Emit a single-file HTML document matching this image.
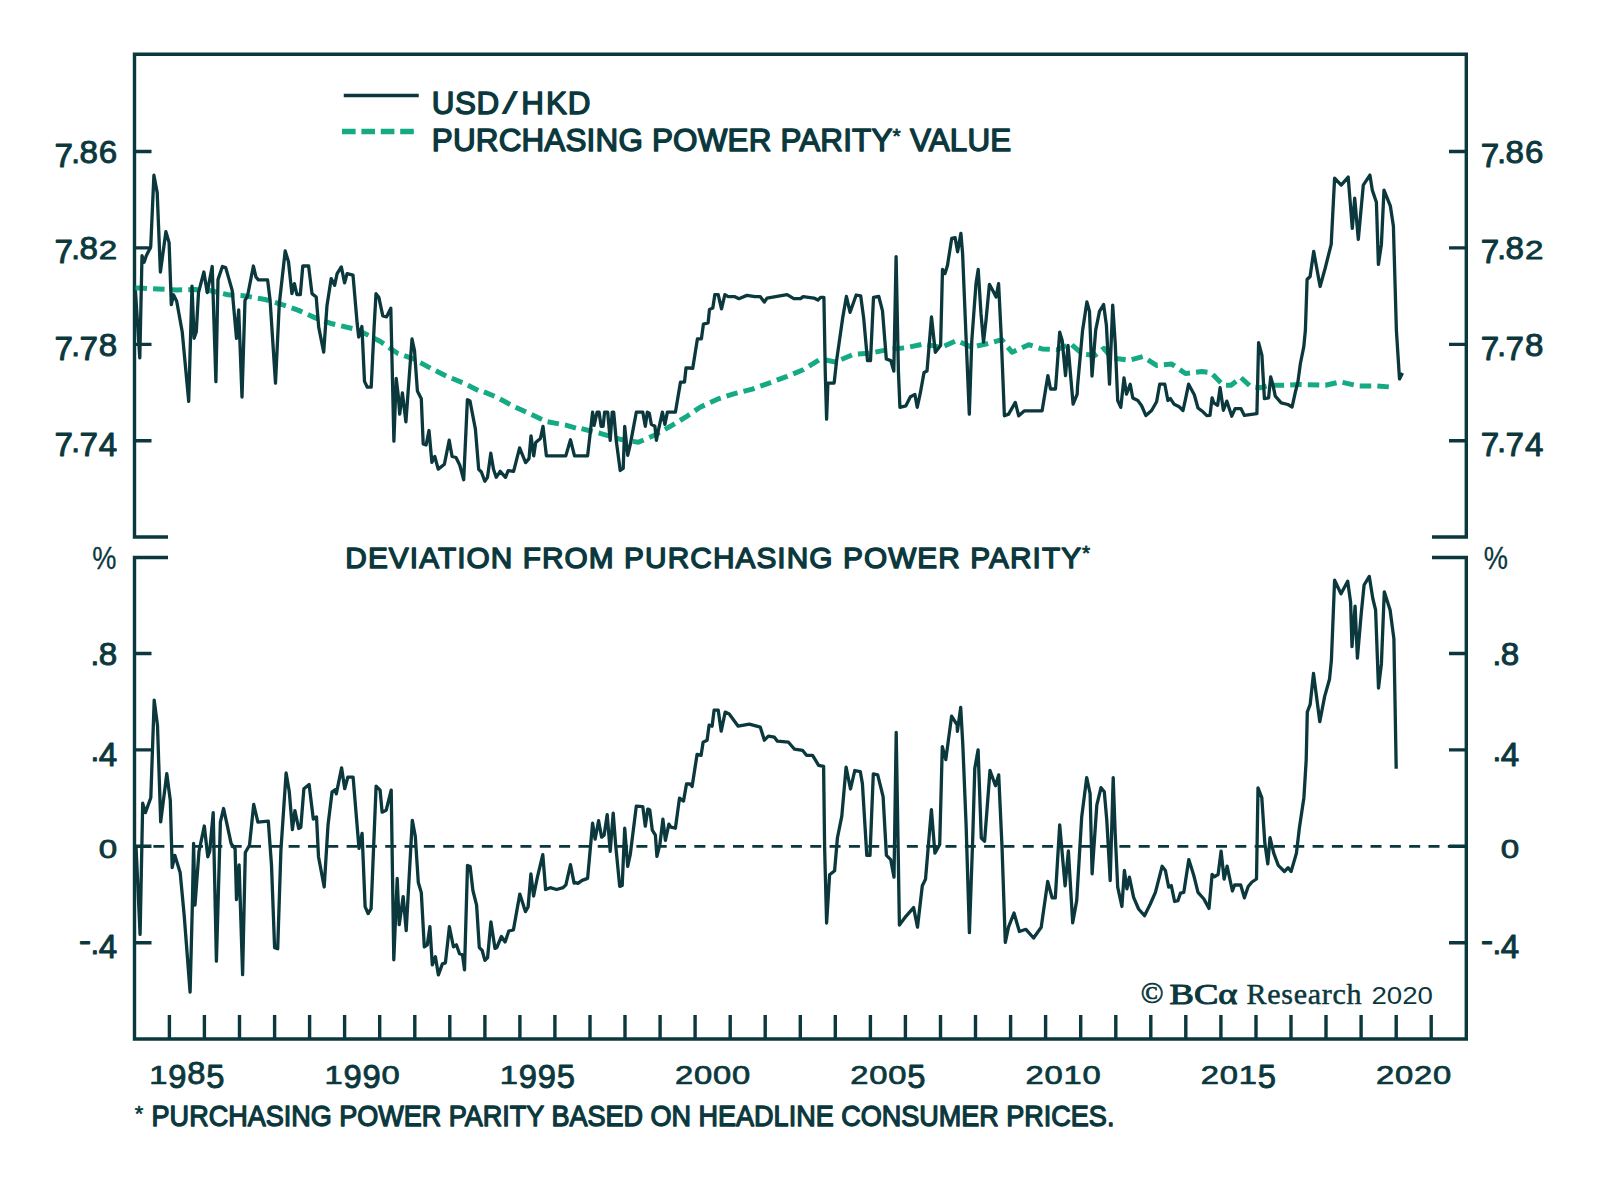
<!DOCTYPE html>
<html><head><meta charset="utf-8"><title>USD/HKD vs Purchasing Power Parity</title>
<style>html,body{margin:0;padding:0;background:#fff;}svg{display:block;}</style>
</head><body>
<svg width="1600" height="1195" viewBox="0 0 1600 1195">
<rect width="1600" height="1195" fill="#ffffff"/>
<g fill="none" stroke="#0b383d" stroke-width="3.4" stroke-linecap="butt" stroke-linejoin="miter">
<path d="M168,537.0 H134.5 V54.3 H1466.3 V537.0 H1432"/>
<path d="M168,557.5 H134.5 V1039.0 H1466.3 V557.5 H1432"/>
<path d="M134.5,151.5 H151.5 M1449,151.5 H1466.3 M134.5,247.9 H151.5 M1449,247.9 H1466.3 M134.5,344.4 H151.5 M1449,344.4 H1466.3 M134.5,440.8 H151.5 M1449,440.8 H1466.3 M134.5,653.5 H151.5 M1449,653.5 H1466.3 M134.5,749.9 H151.5 M1449,749.9 H1466.3 M134.5,846.3 H151.5 M1449,846.3 H1466.3 M134.5,942.7 H151.5 M1449,942.7 H1466.3 M169.4,1039.0 V1015 M204.4,1039.0 V1015 M239.5,1039.0 V1015 M274.6,1039.0 V1015 M309.6,1039.0 V1015 M344.6,1039.0 V1015 M379.7,1039.0 V1015 M414.8,1039.0 V1015 M449.8,1039.0 V1015 M484.9,1039.0 V1015 M519.9,1039.0 V1015 M554.9,1039.0 V1015 M590.0,1039.0 V1015 M625.0,1039.0 V1015 M660.1,1039.0 V1015 M695.1,1039.0 V1015 M730.2,1039.0 V1015 M765.2,1039.0 V1015 M800.3,1039.0 V1015 M835.3,1039.0 V1015 M870.4,1039.0 V1015 M905.4,1039.0 V1015 M940.5,1039.0 V1015 M975.5,1039.0 V1015 M1010.6,1039.0 V1015 M1045.6,1039.0 V1015 M1080.7,1039.0 V1015 M1115.8,1039.0 V1015 M1150.8,1039.0 V1015 M1185.8,1039.0 V1015 M1220.9,1039.0 V1015 M1256.0,1039.0 V1015 M1291.0,1039.0 V1015 M1326.0,1039.0 V1015 M1361.1,1039.0 V1015 M1396.2,1039.0 V1015 M1431.2,1039.0 V1015"/>
</g>
<path d="M134.06,846.35 H1449" fill="none" stroke="#0b383d" stroke-width="2.7" stroke-dasharray="11 8.32"/>
<path d="M135.5,288.0 L140.0,288.0 L158.0,289.0 L177.0,290.0 L195.0,289.5 L211.0,290.8 L228.0,294.8 L245.2,295.9 L265.1,299.5 L281.8,304.5 L298.6,310.4 L315.3,317.9 L332.1,323.8 L357.2,329.6 L380.0,341.3 L397.5,353.3 L413.4,358.8 L430.9,368.4 L446.8,376.3 L462.7,382.7 L478.6,390.6 L480.1,390.3 L496.2,397.0 L513.6,406.3 L529.6,413.7 L547.0,421.7 L565.8,425.1 L579.2,429.1 L580.0,428.3 L600.1,433.3 L620.2,439.3 L638.3,442.3 L654.4,435.3 L670.4,426.3 L685.5,417.2 L700.1,407.2 L717.5,399.2 L733.6,393.8 L752.3,389.1 L767.0,383.8 L787.1,376.4 L803.2,369.7 L820.6,359.0 L834.0,361.7 L835.1,362.1 L853.2,354.5 L871.2,353.0 L889.3,349.3 L905.9,347.7 L924.0,344.0 L940.0,347.2 L942.1,347.0 L956.7,340.5 L971.8,347.2 L986.9,343.8 L1001.9,339.7 L1012.0,352.2 L1028.7,344.7 L1042.1,348.9 L1057.2,349.7 L1070.5,343.8 L1082.6,354.1 L1095.1,355.3 L1103.9,348.4 L1111.4,357.8 L1129.0,360.3 L1142.8,356.6 L1156.6,365.4 L1171.7,364.1 L1185.5,373.5 L1201.8,371.6 L1210.9,372.7 L1223.4,385.2 L1231.0,385.2 L1241.0,377.7 L1250.2,386.1 L1260.3,387.7 L1270.3,385.2 L1283.7,385.2 L1300.4,384.4 L1325.5,385.2 L1340.2,381.9 L1358.3,385.9 L1376.4,385.9 L1390.4,387.0" fill="none" stroke="#14aa83" stroke-width="5" stroke-dasharray="11.5 6.1" stroke-linejoin="round"/>
<path d="M135.4,290.4 L139.8,357.8 L142.0,255.7 L144.1,262.2 L146.3,255.7 L150.7,247.0 L153.9,175.2 L157.2,192.6 L160.4,272.0 L165.9,231.7 L169.1,242.6 L171.3,304.6 L173.5,294.8 L176.7,301.3 L182.2,331.7 L188.7,401.3 L192.0,286.1 L194.1,338.3 L196.3,331.7 L198.5,292.6 L203.9,272.0 L207.2,292.6 L212.2,266.5 L215.9,381.7 L218.0,279.6 L222.4,266.5 L225.7,267.6 L232.2,290.4 L236.5,338.3 L238.7,310.0 L242.0,397.0 L245.0,300.3 L247.5,296.2 L253.4,266.0 L255.9,276.9 L258.4,279.9 L267.6,279.9 L270.1,300.3 L275.5,383.2 L279.3,303.7 L285.2,251.0 L288.5,261.8 L291.9,293.6 L294.4,283.6 L296.9,294.5 L300.3,294.5 L302.8,266.0 L308.6,266.0 L312.0,293.6 L316.2,297.0 L318.7,327.1 L323.7,352.2 L327.0,305.4 L331.2,278.6 L334.6,285.3 L337.1,273.6 L341.3,266.9 L344.6,282.8 L347.1,273.6 L353.0,275.2 L357.2,323.8 L358.7,337.1 L361.9,326.5 L364.5,381.4 L367.3,387.2 L371.2,387.2 L374.1,327.4 L376.0,293.7 L378.9,297.6 L382.8,315.9 L386.6,316.8 L390.8,308.2 L393.9,441.1 L396.2,378.5 L398.2,394.9 L399.7,414.1 L402.4,392.9 L405.9,421.8 L412.0,339.0 L414.5,350.6 L417.4,391.0 L421.3,398.7 L423.2,444.0 L426.1,445.0 L429.0,430.5 L431.9,462.3 L434.8,456.5 L438.2,469.1 L444.4,464.2 L449.2,440.2 L452.1,456.5 L456.0,457.5 L459.8,465.2 L463.7,479.7 L467.4,399.6 L470.0,401.0 L475.4,429.1 L478.7,469.3 L481.4,472.0 L484.8,481.3 L487.5,477.3 L490.8,453.2 L493.5,469.3 L496.2,477.3 L500.2,471.3 L505.5,477.3 L508.2,470.6 L513.6,471.3 L519.6,447.9 L525.6,462.6 L529.0,458.6 L531.0,435.8 L533.7,455.9 L535.7,442.5 L540.4,438.5 L543.0,426.4 L546.4,455.9 L565.8,455.9 L570.5,439.8 L574.5,455.9 L580.0,455.9 L587.6,455.9 L592.6,412.2 L594.1,425.3 L597.1,412.2 L599.1,412.2 L601.1,426.3 L603.1,426.3 L604.6,412.2 L607.7,412.2 L610.2,440.3 L612.2,412.2 L613.7,412.2 L616.2,440.3 L620.2,470.5 L623.2,468.5 L624.7,426.3 L627.7,455.4 L630.3,444.4 L636.3,412.2 L642.8,412.2 L645.3,426.3 L647.3,412.2 L649.3,413.2 L651.3,424.3 L654.9,426.3 L656.4,440.3 L658.4,430.3 L662.4,412.2 L664.9,424.3 L667.4,412.2 L675.4,412.2 L680.5,382.1 L684.5,382.1 L686.0,368.0 L690.0,368.0 L692.7,368.4 L697.4,338.9 L701.4,338.9 L703.4,324.2 L708.1,322.8 L709.5,309.5 L712.8,308.1 L714.8,294.7 L718.2,294.7 L721.5,308.8 L724.9,294.7 L728.2,296.7 L734.9,296.7 L738.9,298.7 L746.9,295.4 L755.0,296.7 L760.3,296.7 L764.3,302.1 L767.0,298.1 L787.1,294.7 L793.8,298.7 L800.5,298.7 L803.2,296.7 L813.9,298.1 L817.9,300.1 L820.6,297.4 L823.9,297.4 L825.3,373.7 L826.6,419.2 L827.9,383.1 L834.0,383.1 L834.3,381.7 L836.6,360.6 L839.6,339.5 L842.6,318.4 L846.4,296.5 L850.1,312.3 L856.2,295.0 L860.7,295.8 L863.7,318.4 L867.5,360.6 L870.5,360.6 L873.5,297.3 L878.8,296.5 L882.5,310.8 L886.3,359.0 L890.8,360.6 L893.8,371.1 L896.1,256.6 L898.4,371.1 L899.9,407.3 L905.9,405.8 L910.4,396.7 L914.9,394.5 L917.2,407.3 L920.2,393.7 L924.0,372.6 L927.0,371.1 L931.5,316.9 L935.3,352.3 L940.6,345.5 L942.5,269.4 L945.0,273.6 L947.5,265.2 L951.7,238.4 L955.1,237.6 L957.6,251.8 L960.9,233.4 L962.6,253.5 L965.9,333.8 L969.3,414.1 L971.8,340.5 L976.0,283.6 L978.2,269.4 L981.0,313.7 L983.5,342.2 L986.0,320.4 L989.4,284.4 L993.6,292.0 L996.1,297.0 L998.6,283.6 L1001.1,333.8 L1004.4,415.8 L1008.6,414.1 L1015.3,402.4 L1018.7,415.8 L1024.5,410.8 L1042.1,410.8 L1047.9,375.6 L1050.5,389.0 L1055.5,389.0 L1059.7,332.1 L1062.2,340.5 L1065.5,375.6 L1068.0,345.5 L1073.1,404.1 L1077.2,394.1 L1077.5,386.7 L1082.6,330.2 L1086.9,302.0 L1089.5,311.4 L1092.0,376.0 L1095.7,330.2 L1099.5,311.4 L1103.6,304.5 L1106.4,325.2 L1109.5,384.2 L1112.7,305.1 L1115.2,342.8 L1117.7,400.5 L1120.8,407.4 L1124.0,377.9 L1126.5,394.2 L1130.2,384.2 L1132.8,398.0 L1137.8,400.5 L1141.5,405.5 L1145.9,415.6 L1151.6,410.5 L1156.6,401.8 L1159.7,384.2 L1164.8,384.2 L1167.9,400.5 L1170.4,398.6 L1174.2,404.3 L1179.2,406.8 L1183.0,410.5 L1185.5,399.2 L1188.6,384.2 L1194.3,394.8 L1198.0,408.0 L1203.0,411.8 L1206.8,415.6 L1210.0,415.4 L1212.1,397.8 L1213.8,402.8 L1217.6,405.3 L1220.1,387.7 L1223.4,410.3 L1226.8,401.1 L1231.8,416.2 L1235.1,408.7 L1241.0,408.7 L1244.4,415.4 L1256.9,413.7 L1258.6,342.6 L1261.9,355.1 L1264.4,398.6 L1268.6,397.8 L1270.7,376.9 L1272.8,384.4 L1275.3,396.1 L1281.2,402.8 L1287.9,404.5 L1292.1,407.0 L1295.4,391.9 L1297.9,381.9 L1300.4,363.5 L1303.8,346.7 L1305.4,330.0 L1307.1,279.5 L1310.1,276.5 L1313.7,251.4 L1320.1,286.5 L1325.1,268.5 L1331.2,244.4 L1334.6,178.1 L1341.2,185.1 L1348.2,177.1 L1352.3,228.3 L1354.7,198.2 L1358.3,239.3 L1363.3,185.1 L1369.9,175.1 L1372.3,190.1 L1376.4,202.2 L1378.4,264.4 L1381.4,244.4 L1384.0,190.1 L1390.4,206.2 L1393.4,226.3 L1396.4,330.7 L1399.5,378.9 L1402.5,372.9" fill="none" stroke="#0b383d" stroke-width="3.3" stroke-linejoin="round"/>
<path d="M136.0,846.0 L140.1,934.4 L142.7,803.2 L145.4,812.6 L150.8,797.8 L154.2,700.1 L157.5,725.5 L160.7,821.9 L166.8,773.7 L170.3,800.5 L172.2,867.5 L174.9,855.4 L180.2,872.8 L184.2,915.7 L190.1,992.0 L192.3,907.6 L193.6,843.4 L195.0,905.0 L199.0,851.4 L204.3,826.0 L207.8,856.8 L209.7,851.4 L213.2,812.6 L216.4,961.2 L220.4,821.9 L223.6,808.5 L231.1,843.4 L235.1,848.7 L236.5,899.6 L239.1,864.8 L242.6,974.6 L245.3,852.5 L249.5,845.2 L253.7,804.4 L257.9,822.2 L268.3,821.1 L271.5,865.1 L274.6,947.7 L277.7,948.7 L280.9,850.4 L286.1,773.0 L289.3,791.8 L292.4,829.5 L294.9,810.7 L298.7,828.5 L300.8,827.4 L303.9,788.7 L309.1,784.5 L313.3,819.0 L316.5,816.9 L318.5,856.7 L324.2,887.0 L328.0,825.3 L332.1,791.8 L335.3,789.7 L336.3,793.9 L341.6,767.8 L344.7,788.7 L347.8,777.2 L353.1,777.2 L359.0,848.4 L362.1,833.3 L365.1,906.6 L368.1,913.6 L371.1,908.6 L376.1,786.1 L380.1,790.1 L382.1,812.2 L386.2,810.2 L391.2,790.1 L393.8,959.8 L397.2,878.5 L399.2,924.7 L403.2,896.6 L406.2,930.7 L412.3,820.3 L415.3,836.3 L418.3,882.5 L421.3,892.6 L424.3,946.8 L427.3,944.8 L429.9,926.7 L432.3,964.9 L435.4,956.8 L438.4,974.9 L442.4,963.9 L445.4,962.9 L449.4,926.7 L453.4,946.8 L456.4,944.8 L459.5,953.8 L462.5,954.8 L464.5,969.9 L467.5,865.4 L470.1,866.5 L472.9,890.5 L476.6,905.2 L479.3,947.5 L482.1,950.3 L484.9,960.4 L487.6,957.7 L490.9,921.8 L495.0,948.4 L496.8,947.5 L501.4,936.5 L505.1,942.0 L508.8,931.0 L513.4,930.0 L519.8,894.1 L525.4,911.6 L528.1,907.0 L530.9,873.9 L533.6,896.0 L537.3,877.6 L542.8,854.6 L545.6,889.5 L550.2,887.7 L556.6,889.5 L563.1,887.7 L565.9,884.9 L570.5,864.7 L574.1,883.1 L574.5,882.4 L578.0,883.4 L582.1,880.4 L587.6,878.4 L592.6,823.2 L595.1,839.2 L598.6,820.7 L601.6,837.2 L604.1,835.2 L607.2,814.6 L610.2,851.3 L613.2,813.1 L615.7,845.3 L619.7,886.4 L622.2,885.4 L624.7,828.2 L627.7,866.4 L630.3,854.3 L636.3,806.1 L642.8,806.6 L645.3,826.2 L647.8,809.1 L649.8,810.1 L652.3,830.2 L655.4,835.2 L656.9,856.3 L659.9,844.3 L662.9,819.2 L665.4,840.3 L668.9,824.2 L670.9,827.2 L675.4,828.2 L679.5,798.1 L683.5,801.1 L686.5,784.0 L690.0,784.0 L692.1,786.4 L697.1,754.3 L701.1,755.3 L703.1,742.2 L707.1,740.2 L709.1,725.1 L712.1,726.2 L714.1,710.1 L718.2,710.1 L721.2,731.2 L725.2,712.1 L729.2,714.1 L738.2,726.2 L749.3,724.1 L760.3,727.2 L764.4,740.2 L768.4,736.2 L774.4,737.2 L777.4,741.2 L788.5,742.2 L794.5,749.2 L802.5,750.3 L806.5,755.3 L812.6,755.3 L818.6,765.3 L823.6,766.3 L824.6,846.7 L826.6,923.0 L829.6,874.8 L834.6,870.8 L837.4,838.0 L841.8,816.2 L846.1,767.2 L850.5,789.0 L854.8,770.5 L860.3,771.6 L862.4,783.6 L866.8,855.4 L870.0,855.4 L873.3,773.8 L877.7,774.9 L883.1,796.6 L886.4,855.4 L890.7,859.7 L894.0,877.1 L896.2,732.4 L898.3,857.5 L899.4,925.0 L905.9,916.3 L913.6,907.6 L917.5,927.2 L922.3,885.8 L925.5,879.3 L931.4,809.7 L934.9,853.2 L939.7,844.5 L942.3,746.6 L945.8,759.6 L951.6,716.1 L957.1,724.8 L957.4,731.3 L960.7,707.4 L962.8,744.4 L966.1,824.9 L969.4,932.6 L972.6,842.3 L974.8,768.3 L978.1,749.8 L981.3,838.0 L984.6,841.2 L990.0,770.5 L995.5,785.7 L998.7,774.9 L1002.0,846.7 L1005.3,942.4 L1008.5,927.2 L1014.0,913.0 L1019.4,931.5 L1025.9,929.3 L1033.6,938.0 L1041.2,927.2 L1047.7,881.5 L1052.1,897.8 L1055.3,897.8 L1059.7,824.9 L1065.1,885.8 L1068.4,851.0 L1072.7,922.8 L1076.7,900.6 L1081.7,816.9 L1086.7,777.6 L1090.1,793.5 L1092.1,873.8 L1096.8,805.2 L1101.0,787.7 L1104.3,791.8 L1106.8,820.3 L1110.2,880.5 L1113.2,777.6 L1115.2,833.7 L1117.7,887.2 L1121.9,906.5 L1124.4,870.5 L1126.9,888.9 L1129.4,877.2 L1133.6,897.3 L1138.6,909.0 L1144.5,915.7 L1150.3,904.0 L1155.4,892.3 L1162.1,866.3 L1165.4,870.5 L1168.7,887.2 L1171.3,885.6 L1174.6,901.5 L1177.9,900.6 L1180.5,893.1 L1183.8,892.3 L1188.8,859.6 L1193.8,875.5 L1198.0,892.3 L1203.9,899.0 L1204.5,900.1 L1209.0,908.4 L1212.1,874.5 L1214.3,876.7 L1218.1,874.5 L1221.1,851.1 L1224.1,879.0 L1227.1,866.2 L1232.4,891.0 L1234.6,885.0 L1240.7,885.0 L1244.4,897.8 L1248.2,886.5 L1252.0,882.0 L1256.5,879.0 L1258.0,787.9 L1261.8,797.7 L1264.8,842.8 L1267.8,863.9 L1270.0,837.6 L1273.8,853.4 L1278.3,865.4 L1284.4,871.5 L1288.1,867.7 L1291.1,871.5 L1296.4,853.4 L1299.4,827.8 L1303.9,797.7 L1306.2,760.0 L1307.3,712.0 L1310.2,704.3 L1313.5,673.5 L1319.8,721.7 L1324.6,696.6 L1329.5,679.3 L1331.4,660.1 L1334.6,580.2 L1341.0,593.7 L1347.7,581.2 L1350.6,602.3 L1352.0,646.6 L1355.1,606.2 L1357.4,658.2 L1361.2,613.9 L1364.1,585.0 L1369.3,576.4 L1372.8,598.5 L1375.6,610.0 L1378.5,688.0 L1381.4,663.9 L1384.3,591.8 L1390.1,610.0 L1393.9,638.9 L1394.9,694.7 L1396.2,768.8" fill="none" stroke="#0b383d" stroke-width="3.3" stroke-linejoin="round"/>
<path d="M343.75,95.5 H418.75" stroke="#0b383d" stroke-width="3.4"/>
<path d="M342,131.5 H414" stroke="#14aa83" stroke-width="5.5" stroke-dasharray="13.6 5.8"/>
<text x="443.1 465.45 487.8" y="113.75" font-family="'Liberation Sans', Arial, sans-serif" font-size="31.4" fill="#0b383d" stroke="#0b383d" stroke-width="1.4" stroke-linejoin="round" text-anchor="middle">USD</text>
<text x="532.65 556.55 579.2" y="113.75" font-family="'Liberation Sans', Arial, sans-serif" font-size="31.4" fill="#0b383d" stroke="#0b383d" stroke-width="1.4" stroke-linejoin="round" text-anchor="middle">HKD</text>
<text transform="translate(509.85,113.75) scale(1.9,1)" font-family="'Liberation Sans', Arial, sans-serif" font-size="31.4" fill="#0b383d" stroke="#0b383d" stroke-width="0" stroke-linejoin="round" text-anchor="middle">/</text>
<text x="431.8" y="150.8" font-family="'Liberation Sans', Arial, sans-serif" font-size="31.4" font-weight="normal" fill="#0b383d" stroke="#0b383d" stroke-width="1.4" stroke-linejoin="round" text-anchor="start" textLength="579.5" lengthAdjust="spacing">PURCHASING POWER PARITY<tspan font-size="21" dy="-8.3" stroke-width="0.8">*</tspan><tspan dy="8.3"> VALUE</tspan></text>
<text x="345.3" y="568" font-family="'Liberation Sans', Arial, sans-serif" font-size="29.8" font-weight="normal" fill="#0b383d" stroke="#0b383d" stroke-width="1.4" stroke-linejoin="round" text-anchor="start" textLength="745" lengthAdjust="spacing">DEVIATION FROM PURCHASING POWER PARITY<tspan font-size="21" dy="-7.6" stroke-width="0.8">*</tspan></text>
<text x="134.8" y="1120.5" font-family="'Liberation Sans', Arial, sans-serif" font-size="22" font-weight="normal" fill="#0b383d" stroke="#0b383d" stroke-width="0.6" stroke-linejoin="round" text-anchor="start">*</text>
<text x="151.6" y="1126" font-family="'Liberation Sans', Arial, sans-serif" font-size="28.6" font-weight="normal" fill="#0b383d" stroke="#0b383d" stroke-width="1.3" stroke-linejoin="round" text-anchor="start" textLength="962.8" lengthAdjust="spacingAndGlyphs">PURCHASING POWER PARITY BASED ON HEADLINE CONSUMER PRICES.</text>
<text transform="translate(63.79,167.08) scale(1.060,1.050)" font-family="'Liberation Sans', Arial, sans-serif" font-size="31.29" fill="#0b383d" stroke="#0b383d" stroke-width="0.94" stroke-linejoin="round" text-anchor="middle">7</text>
<text transform="translate(75.61,162.70) scale(1.000,1.000)" font-family="'Liberation Sans', Arial, sans-serif" font-size="31.29" fill="#0b383d" stroke="#0b383d" stroke-width="1.00" stroke-linejoin="round" text-anchor="middle">.</text>
<text transform="translate(88.75,162.70) scale(1.060,1.000)" font-family="'Liberation Sans', Arial, sans-serif" font-size="31.29" fill="#0b383d" stroke="#0b383d" stroke-width="0.94" stroke-linejoin="round" text-anchor="middle">8</text>
<text transform="translate(108.02,162.70) scale(1.060,1.000)" font-family="'Liberation Sans', Arial, sans-serif" font-size="31.29" fill="#0b383d" stroke="#0b383d" stroke-width="0.94" stroke-linejoin="round" text-anchor="middle">6</text>
<text transform="translate(1489.88,167.08) scale(1.060,1.050)" font-family="'Liberation Sans', Arial, sans-serif" font-size="31.29" fill="#0b383d" stroke="#0b383d" stroke-width="0.94" stroke-linejoin="round" text-anchor="middle">7</text>
<text transform="translate(1501.70,162.70) scale(1.000,1.000)" font-family="'Liberation Sans', Arial, sans-serif" font-size="31.29" fill="#0b383d" stroke="#0b383d" stroke-width="1.00" stroke-linejoin="round" text-anchor="middle">.</text>
<text transform="translate(1514.84,162.70) scale(1.060,1.000)" font-family="'Liberation Sans', Arial, sans-serif" font-size="31.29" fill="#0b383d" stroke="#0b383d" stroke-width="0.94" stroke-linejoin="round" text-anchor="middle">8</text>
<text transform="translate(1534.11,162.70) scale(1.060,1.000)" font-family="'Liberation Sans', Arial, sans-serif" font-size="31.29" fill="#0b383d" stroke="#0b383d" stroke-width="0.94" stroke-linejoin="round" text-anchor="middle">6</text>
<text transform="translate(63.79,263.48) scale(1.060,1.050)" font-family="'Liberation Sans', Arial, sans-serif" font-size="31.29" fill="#0b383d" stroke="#0b383d" stroke-width="0.94" stroke-linejoin="round" text-anchor="middle">7</text>
<text transform="translate(75.61,259.10) scale(1.000,1.000)" font-family="'Liberation Sans', Arial, sans-serif" font-size="31.29" fill="#0b383d" stroke="#0b383d" stroke-width="1.00" stroke-linejoin="round" text-anchor="middle">.</text>
<text transform="translate(88.75,259.10) scale(1.060,1.000)" font-family="'Liberation Sans', Arial, sans-serif" font-size="31.29" fill="#0b383d" stroke="#0b383d" stroke-width="0.94" stroke-linejoin="round" text-anchor="middle">8</text>
<text transform="translate(108.02,259.10) scale(1.060,0.850)" font-family="'Liberation Sans', Arial, sans-serif" font-size="31.29" fill="#0b383d" stroke="#0b383d" stroke-width="0.94" stroke-linejoin="round" text-anchor="middle">2</text>
<text transform="translate(1489.88,263.48) scale(1.060,1.050)" font-family="'Liberation Sans', Arial, sans-serif" font-size="31.29" fill="#0b383d" stroke="#0b383d" stroke-width="0.94" stroke-linejoin="round" text-anchor="middle">7</text>
<text transform="translate(1501.70,259.10) scale(1.000,1.000)" font-family="'Liberation Sans', Arial, sans-serif" font-size="31.29" fill="#0b383d" stroke="#0b383d" stroke-width="1.00" stroke-linejoin="round" text-anchor="middle">.</text>
<text transform="translate(1514.84,259.10) scale(1.060,1.000)" font-family="'Liberation Sans', Arial, sans-serif" font-size="31.29" fill="#0b383d" stroke="#0b383d" stroke-width="0.94" stroke-linejoin="round" text-anchor="middle">8</text>
<text transform="translate(1534.11,259.10) scale(1.060,0.850)" font-family="'Liberation Sans', Arial, sans-serif" font-size="31.29" fill="#0b383d" stroke="#0b383d" stroke-width="0.94" stroke-linejoin="round" text-anchor="middle">2</text>
<text transform="translate(63.79,359.98) scale(1.060,1.050)" font-family="'Liberation Sans', Arial, sans-serif" font-size="31.29" fill="#0b383d" stroke="#0b383d" stroke-width="0.94" stroke-linejoin="round" text-anchor="middle">7</text>
<text transform="translate(75.61,355.60) scale(1.000,1.000)" font-family="'Liberation Sans', Arial, sans-serif" font-size="31.29" fill="#0b383d" stroke="#0b383d" stroke-width="1.00" stroke-linejoin="round" text-anchor="middle">.</text>
<text transform="translate(88.75,359.98) scale(1.060,1.050)" font-family="'Liberation Sans', Arial, sans-serif" font-size="31.29" fill="#0b383d" stroke="#0b383d" stroke-width="0.94" stroke-linejoin="round" text-anchor="middle">7</text>
<text transform="translate(108.02,355.60) scale(1.060,1.000)" font-family="'Liberation Sans', Arial, sans-serif" font-size="31.29" fill="#0b383d" stroke="#0b383d" stroke-width="0.94" stroke-linejoin="round" text-anchor="middle">8</text>
<text transform="translate(1489.88,359.98) scale(1.060,1.050)" font-family="'Liberation Sans', Arial, sans-serif" font-size="31.29" fill="#0b383d" stroke="#0b383d" stroke-width="0.94" stroke-linejoin="round" text-anchor="middle">7</text>
<text transform="translate(1501.70,355.60) scale(1.000,1.000)" font-family="'Liberation Sans', Arial, sans-serif" font-size="31.29" fill="#0b383d" stroke="#0b383d" stroke-width="1.00" stroke-linejoin="round" text-anchor="middle">.</text>
<text transform="translate(1514.84,359.98) scale(1.060,1.050)" font-family="'Liberation Sans', Arial, sans-serif" font-size="31.29" fill="#0b383d" stroke="#0b383d" stroke-width="0.94" stroke-linejoin="round" text-anchor="middle">7</text>
<text transform="translate(1534.11,355.60) scale(1.060,1.000)" font-family="'Liberation Sans', Arial, sans-serif" font-size="31.29" fill="#0b383d" stroke="#0b383d" stroke-width="0.94" stroke-linejoin="round" text-anchor="middle">8</text>
<text transform="translate(63.79,456.38) scale(1.060,1.050)" font-family="'Liberation Sans', Arial, sans-serif" font-size="31.29" fill="#0b383d" stroke="#0b383d" stroke-width="0.94" stroke-linejoin="round" text-anchor="middle">7</text>
<text transform="translate(75.61,452.00) scale(1.000,1.000)" font-family="'Liberation Sans', Arial, sans-serif" font-size="31.29" fill="#0b383d" stroke="#0b383d" stroke-width="1.00" stroke-linejoin="round" text-anchor="middle">.</text>
<text transform="translate(88.75,456.38) scale(1.060,1.050)" font-family="'Liberation Sans', Arial, sans-serif" font-size="31.29" fill="#0b383d" stroke="#0b383d" stroke-width="0.94" stroke-linejoin="round" text-anchor="middle">7</text>
<text transform="translate(108.02,456.38) scale(1.060,1.050)" font-family="'Liberation Sans', Arial, sans-serif" font-size="31.29" fill="#0b383d" stroke="#0b383d" stroke-width="0.94" stroke-linejoin="round" text-anchor="middle">4</text>
<text transform="translate(1489.88,456.38) scale(1.060,1.050)" font-family="'Liberation Sans', Arial, sans-serif" font-size="31.29" fill="#0b383d" stroke="#0b383d" stroke-width="0.94" stroke-linejoin="round" text-anchor="middle">7</text>
<text transform="translate(1501.70,452.00) scale(1.000,1.000)" font-family="'Liberation Sans', Arial, sans-serif" font-size="31.29" fill="#0b383d" stroke="#0b383d" stroke-width="1.00" stroke-linejoin="round" text-anchor="middle">.</text>
<text transform="translate(1514.84,456.38) scale(1.060,1.050)" font-family="'Liberation Sans', Arial, sans-serif" font-size="31.29" fill="#0b383d" stroke="#0b383d" stroke-width="0.94" stroke-linejoin="round" text-anchor="middle">7</text>
<text transform="translate(1534.11,456.38) scale(1.060,1.050)" font-family="'Liberation Sans', Arial, sans-serif" font-size="31.29" fill="#0b383d" stroke="#0b383d" stroke-width="0.94" stroke-linejoin="round" text-anchor="middle">4</text>
<text transform="translate(94.88,664.80) scale(1.000,1.000)" font-family="'Liberation Sans', Arial, sans-serif" font-size="31.29" fill="#0b383d" stroke="#0b383d" stroke-width="1.00" stroke-linejoin="round" text-anchor="middle">.</text>
<text transform="translate(108.02,664.80) scale(1.060,1.000)" font-family="'Liberation Sans', Arial, sans-serif" font-size="31.29" fill="#0b383d" stroke="#0b383d" stroke-width="0.94" stroke-linejoin="round" text-anchor="middle">8</text>
<text transform="translate(1496.78,664.80) scale(1.000,1.000)" font-family="'Liberation Sans', Arial, sans-serif" font-size="31.29" fill="#0b383d" stroke="#0b383d" stroke-width="1.00" stroke-linejoin="round" text-anchor="middle">.</text>
<text transform="translate(1509.92,664.80) scale(1.060,1.000)" font-family="'Liberation Sans', Arial, sans-serif" font-size="31.29" fill="#0b383d" stroke="#0b383d" stroke-width="0.94" stroke-linejoin="round" text-anchor="middle">8</text>
<text transform="translate(94.88,761.20) scale(1.000,1.000)" font-family="'Liberation Sans', Arial, sans-serif" font-size="31.29" fill="#0b383d" stroke="#0b383d" stroke-width="1.00" stroke-linejoin="round" text-anchor="middle">.</text>
<text transform="translate(108.02,765.58) scale(1.060,1.050)" font-family="'Liberation Sans', Arial, sans-serif" font-size="31.29" fill="#0b383d" stroke="#0b383d" stroke-width="0.94" stroke-linejoin="round" text-anchor="middle">4</text>
<text transform="translate(1496.78,761.20) scale(1.000,1.000)" font-family="'Liberation Sans', Arial, sans-serif" font-size="31.29" fill="#0b383d" stroke="#0b383d" stroke-width="1.00" stroke-linejoin="round" text-anchor="middle">.</text>
<text transform="translate(1509.92,765.58) scale(1.060,1.050)" font-family="'Liberation Sans', Arial, sans-serif" font-size="31.29" fill="#0b383d" stroke="#0b383d" stroke-width="0.94" stroke-linejoin="round" text-anchor="middle">4</text>
<text transform="translate(108.02,857.60) scale(1.060,0.850)" font-family="'Liberation Sans', Arial, sans-serif" font-size="31.29" fill="#0b383d" stroke="#0b383d" stroke-width="0.94" stroke-linejoin="round" text-anchor="middle">0</text>
<text transform="translate(1509.92,857.60) scale(1.060,0.850)" font-family="'Liberation Sans', Arial, sans-serif" font-size="31.29" fill="#0b383d" stroke="#0b383d" stroke-width="0.94" stroke-linejoin="round" text-anchor="middle">0</text>
<text transform="translate(85.03,951.37) scale(1.200,1.000)" font-family="'Liberation Sans', Arial, sans-serif" font-size="31.29" fill="#0b383d" stroke="#0b383d" stroke-width="0.83" stroke-linejoin="round" text-anchor="middle">-</text>
<text transform="translate(94.88,954.00) scale(1.000,1.000)" font-family="'Liberation Sans', Arial, sans-serif" font-size="31.29" fill="#0b383d" stroke="#0b383d" stroke-width="1.00" stroke-linejoin="round" text-anchor="middle">.</text>
<text transform="translate(108.02,958.38) scale(1.060,1.050)" font-family="'Liberation Sans', Arial, sans-serif" font-size="31.29" fill="#0b383d" stroke="#0b383d" stroke-width="0.94" stroke-linejoin="round" text-anchor="middle">4</text>
<text transform="translate(1486.93,951.37) scale(1.200,1.000)" font-family="'Liberation Sans', Arial, sans-serif" font-size="31.29" fill="#0b383d" stroke="#0b383d" stroke-width="0.83" stroke-linejoin="round" text-anchor="middle">-</text>
<text transform="translate(1496.78,954.00) scale(1.000,1.000)" font-family="'Liberation Sans', Arial, sans-serif" font-size="31.29" fill="#0b383d" stroke="#0b383d" stroke-width="1.00" stroke-linejoin="round" text-anchor="middle">.</text>
<text transform="translate(1509.92,958.38) scale(1.060,1.050)" font-family="'Liberation Sans', Arial, sans-serif" font-size="31.29" fill="#0b383d" stroke="#0b383d" stroke-width="0.94" stroke-linejoin="round" text-anchor="middle">4</text>
<text transform="translate(104.3,568.5) scale(0.85,1)" font-family="'Liberation Sans', Arial, sans-serif" font-size="32" fill="#0b383d" stroke="#0b383d" stroke-width="0.3" text-anchor="middle">%</text>
<text transform="translate(1495.9,568.5) scale(0.85,1)" font-family="'Liberation Sans', Arial, sans-serif" font-size="32" fill="#0b383d" stroke="#0b383d" stroke-width="0.3" text-anchor="middle">%</text>
<text transform="translate(158.41,1084.00) scale(1.060,0.850)" font-family="'Liberation Sans', Arial, sans-serif" font-size="30.86" fill="#0b383d" stroke="#0b383d" stroke-width="0.85" stroke-linejoin="round" text-anchor="middle">1</text>
<text transform="translate(177.42,1088.32) scale(1.060,1.050)" font-family="'Liberation Sans', Arial, sans-serif" font-size="30.86" fill="#0b383d" stroke="#0b383d" stroke-width="0.85" stroke-linejoin="round" text-anchor="middle">9</text>
<text transform="translate(196.43,1084.00) scale(1.060,1.000)" font-family="'Liberation Sans', Arial, sans-serif" font-size="30.86" fill="#0b383d" stroke="#0b383d" stroke-width="0.85" stroke-linejoin="round" text-anchor="middle">8</text>
<text transform="translate(215.44,1088.32) scale(1.060,1.050)" font-family="'Liberation Sans', Arial, sans-serif" font-size="30.86" fill="#0b383d" stroke="#0b383d" stroke-width="0.85" stroke-linejoin="round" text-anchor="middle">5</text>
<text transform="translate(333.66,1084.00) scale(1.060,0.850)" font-family="'Liberation Sans', Arial, sans-serif" font-size="30.86" fill="#0b383d" stroke="#0b383d" stroke-width="0.85" stroke-linejoin="round" text-anchor="middle">1</text>
<text transform="translate(352.67,1088.32) scale(1.060,1.050)" font-family="'Liberation Sans', Arial, sans-serif" font-size="30.86" fill="#0b383d" stroke="#0b383d" stroke-width="0.85" stroke-linejoin="round" text-anchor="middle">9</text>
<text transform="translate(371.68,1088.32) scale(1.060,1.050)" font-family="'Liberation Sans', Arial, sans-serif" font-size="30.86" fill="#0b383d" stroke="#0b383d" stroke-width="0.85" stroke-linejoin="round" text-anchor="middle">9</text>
<text transform="translate(390.69,1084.00) scale(1.060,0.850)" font-family="'Liberation Sans', Arial, sans-serif" font-size="30.86" fill="#0b383d" stroke="#0b383d" stroke-width="0.85" stroke-linejoin="round" text-anchor="middle">0</text>
<text transform="translate(508.91,1084.00) scale(1.060,0.850)" font-family="'Liberation Sans', Arial, sans-serif" font-size="30.86" fill="#0b383d" stroke="#0b383d" stroke-width="0.85" stroke-linejoin="round" text-anchor="middle">1</text>
<text transform="translate(527.92,1088.32) scale(1.060,1.050)" font-family="'Liberation Sans', Arial, sans-serif" font-size="30.86" fill="#0b383d" stroke="#0b383d" stroke-width="0.85" stroke-linejoin="round" text-anchor="middle">9</text>
<text transform="translate(546.93,1088.32) scale(1.060,1.050)" font-family="'Liberation Sans', Arial, sans-serif" font-size="30.86" fill="#0b383d" stroke="#0b383d" stroke-width="0.85" stroke-linejoin="round" text-anchor="middle">9</text>
<text transform="translate(565.94,1088.32) scale(1.060,1.050)" font-family="'Liberation Sans', Arial, sans-serif" font-size="30.86" fill="#0b383d" stroke="#0b383d" stroke-width="0.85" stroke-linejoin="round" text-anchor="middle">5</text>
<text transform="translate(684.16,1084.00) scale(1.060,0.850)" font-family="'Liberation Sans', Arial, sans-serif" font-size="30.86" fill="#0b383d" stroke="#0b383d" stroke-width="0.85" stroke-linejoin="round" text-anchor="middle">2</text>
<text transform="translate(703.17,1084.00) scale(1.060,0.850)" font-family="'Liberation Sans', Arial, sans-serif" font-size="30.86" fill="#0b383d" stroke="#0b383d" stroke-width="0.85" stroke-linejoin="round" text-anchor="middle">0</text>
<text transform="translate(722.18,1084.00) scale(1.060,0.850)" font-family="'Liberation Sans', Arial, sans-serif" font-size="30.86" fill="#0b383d" stroke="#0b383d" stroke-width="0.85" stroke-linejoin="round" text-anchor="middle">0</text>
<text transform="translate(741.19,1084.00) scale(1.060,0.850)" font-family="'Liberation Sans', Arial, sans-serif" font-size="30.86" fill="#0b383d" stroke="#0b383d" stroke-width="0.85" stroke-linejoin="round" text-anchor="middle">0</text>
<text transform="translate(859.41,1084.00) scale(1.060,0.850)" font-family="'Liberation Sans', Arial, sans-serif" font-size="30.86" fill="#0b383d" stroke="#0b383d" stroke-width="0.85" stroke-linejoin="round" text-anchor="middle">2</text>
<text transform="translate(878.42,1084.00) scale(1.060,0.850)" font-family="'Liberation Sans', Arial, sans-serif" font-size="30.86" fill="#0b383d" stroke="#0b383d" stroke-width="0.85" stroke-linejoin="round" text-anchor="middle">0</text>
<text transform="translate(897.43,1084.00) scale(1.060,0.850)" font-family="'Liberation Sans', Arial, sans-serif" font-size="30.86" fill="#0b383d" stroke="#0b383d" stroke-width="0.85" stroke-linejoin="round" text-anchor="middle">0</text>
<text transform="translate(916.44,1088.32) scale(1.060,1.050)" font-family="'Liberation Sans', Arial, sans-serif" font-size="30.86" fill="#0b383d" stroke="#0b383d" stroke-width="0.85" stroke-linejoin="round" text-anchor="middle">5</text>
<text transform="translate(1034.66,1084.00) scale(1.060,0.850)" font-family="'Liberation Sans', Arial, sans-serif" font-size="30.86" fill="#0b383d" stroke="#0b383d" stroke-width="0.85" stroke-linejoin="round" text-anchor="middle">2</text>
<text transform="translate(1053.67,1084.00) scale(1.060,0.850)" font-family="'Liberation Sans', Arial, sans-serif" font-size="30.86" fill="#0b383d" stroke="#0b383d" stroke-width="0.85" stroke-linejoin="round" text-anchor="middle">0</text>
<text transform="translate(1072.68,1084.00) scale(1.060,0.850)" font-family="'Liberation Sans', Arial, sans-serif" font-size="30.86" fill="#0b383d" stroke="#0b383d" stroke-width="0.85" stroke-linejoin="round" text-anchor="middle">1</text>
<text transform="translate(1091.69,1084.00) scale(1.060,0.850)" font-family="'Liberation Sans', Arial, sans-serif" font-size="30.86" fill="#0b383d" stroke="#0b383d" stroke-width="0.85" stroke-linejoin="round" text-anchor="middle">0</text>
<text transform="translate(1209.91,1084.00) scale(1.060,0.850)" font-family="'Liberation Sans', Arial, sans-serif" font-size="30.86" fill="#0b383d" stroke="#0b383d" stroke-width="0.85" stroke-linejoin="round" text-anchor="middle">2</text>
<text transform="translate(1228.92,1084.00) scale(1.060,0.850)" font-family="'Liberation Sans', Arial, sans-serif" font-size="30.86" fill="#0b383d" stroke="#0b383d" stroke-width="0.85" stroke-linejoin="round" text-anchor="middle">0</text>
<text transform="translate(1247.93,1084.00) scale(1.060,0.850)" font-family="'Liberation Sans', Arial, sans-serif" font-size="30.86" fill="#0b383d" stroke="#0b383d" stroke-width="0.85" stroke-linejoin="round" text-anchor="middle">1</text>
<text transform="translate(1266.94,1088.32) scale(1.060,1.050)" font-family="'Liberation Sans', Arial, sans-serif" font-size="30.86" fill="#0b383d" stroke="#0b383d" stroke-width="0.85" stroke-linejoin="round" text-anchor="middle">5</text>
<text transform="translate(1385.16,1084.00) scale(1.060,0.850)" font-family="'Liberation Sans', Arial, sans-serif" font-size="30.86" fill="#0b383d" stroke="#0b383d" stroke-width="0.85" stroke-linejoin="round" text-anchor="middle">2</text>
<text transform="translate(1404.17,1084.00) scale(1.060,0.850)" font-family="'Liberation Sans', Arial, sans-serif" font-size="30.86" fill="#0b383d" stroke="#0b383d" stroke-width="0.85" stroke-linejoin="round" text-anchor="middle">0</text>
<text transform="translate(1423.18,1084.00) scale(1.060,0.850)" font-family="'Liberation Sans', Arial, sans-serif" font-size="30.86" fill="#0b383d" stroke="#0b383d" stroke-width="0.85" stroke-linejoin="round" text-anchor="middle">2</text>
<text transform="translate(1442.19,1084.00) scale(1.060,0.850)" font-family="'Liberation Sans', Arial, sans-serif" font-size="30.86" fill="#0b383d" stroke="#0b383d" stroke-width="0.85" stroke-linejoin="round" text-anchor="middle">0</text>
<text x="1140.8" y="1003.3" font-family="'Liberation Serif', 'Times New Roman', serif" font-size="30" font-weight="normal" fill="#0b383d" stroke="#0b383d" stroke-width="0.7" stroke-linejoin="round" text-anchor="start" textLength="21.5" lengthAdjust="spacing">©</text>
<text x="1169.5" y="1003.8" font-family="'Liberation Serif', 'Times New Roman', serif" font-size="30" font-weight="normal" fill="#0b383d" stroke="#0b383d" stroke-width="1.0" stroke-linejoin="round" text-anchor="start" textLength="68" lengthAdjust="spacingAndGlyphs">BCα</text>
<text x="1246.5" y="1003.5" font-family="'Liberation Serif', 'Times New Roman', serif" font-size="30" font-weight="normal" fill="#0b383d" stroke="#0b383d" stroke-width="0.5" stroke-linejoin="round" text-anchor="start" textLength="115" lengthAdjust="spacing">Research</text>
<text x="1371.5" y="1003.5" font-family="'Liberation Sans', Arial, sans-serif" font-size="23.7" font-weight="normal" fill="#0b383d" text-anchor="start" textLength="61.5" lengthAdjust="spacingAndGlyphs">2020</text>
</svg>
</body></html>
